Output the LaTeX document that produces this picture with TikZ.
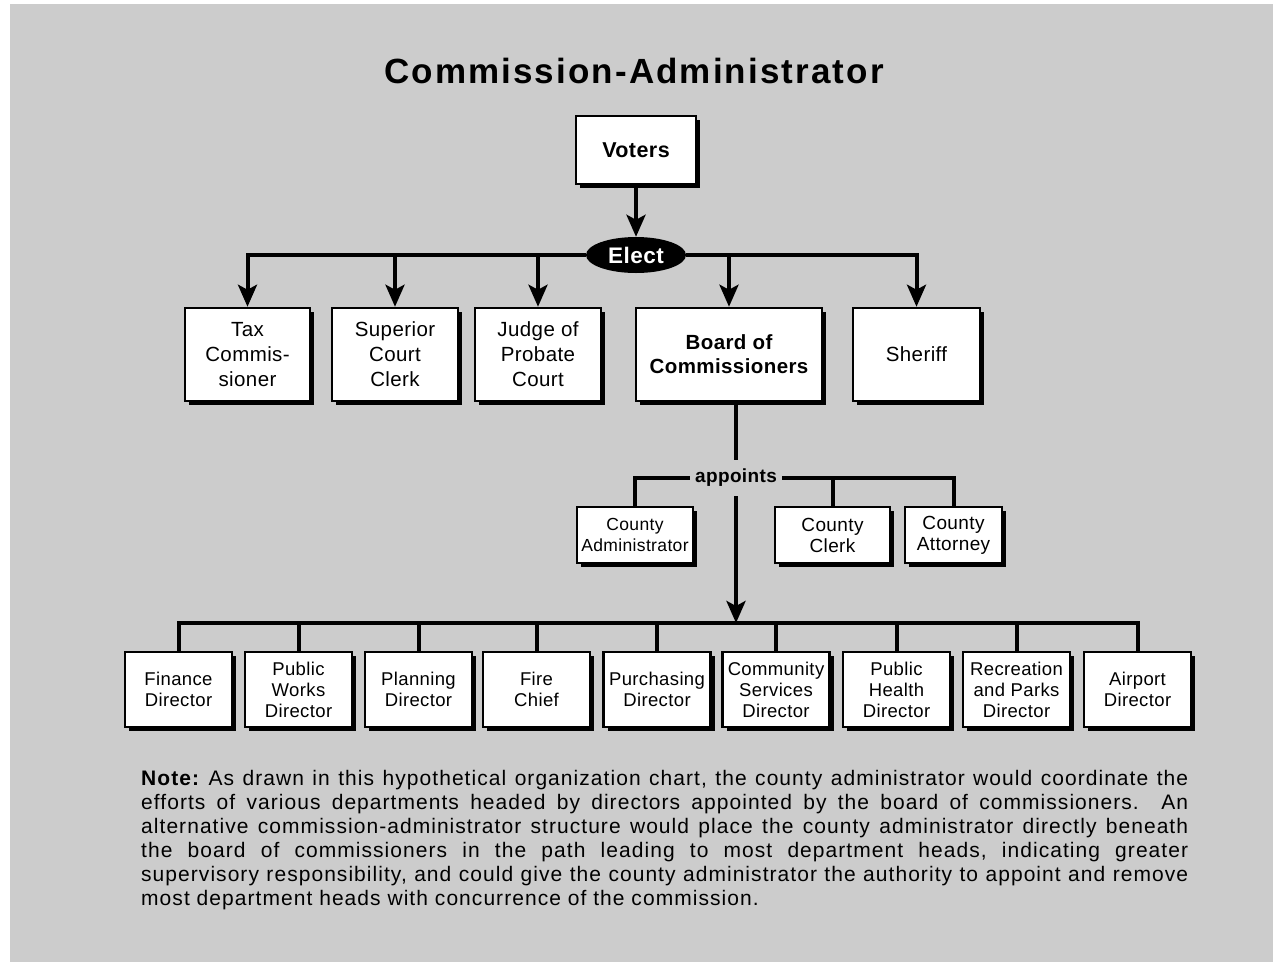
\documentclass[tikz,border=0pt]{standalone}
\usepackage{fontspec}
\setmainfont{Liberation Sans}[LetterSpace=2]
\usetikzlibrary{shapes.geometric,shadows,arrows.meta}
\definecolor{panel}{HTML}{CCCCCC}
\begin{document}
\begin{tikzpicture}[x=1pt,y=-1pt,
  office/.style={draw,line width=2.5pt,fill=white,inner sep=0pt,align=center,
    drop shadow={shadow xshift=4pt,shadow yshift=-4pt,fill=black,opacity=1}},
  elected/.style={office,minimum height=93pt,font=\fontsize{20.5}{25}\selectfont},
  appointed/.style={office,minimum height=56pt,font=\fontsize{19}{21}\selectfont},
  dept/.style={office,minimum width=107pt,minimum height=75pt,font=\fontsize{18.5}{21}\selectfont},
  link/.style={line width=4pt},
  flow/.style={link,-{Stealth[length=22pt,width=19pt,inset=5pt]}}]
\useasboundingbox (0,0) rectangle (1273,962);
\fill[white] (0,0) rectangle (1273,962);
\fill[panel] (10,4) rectangle (1273,962);

\node[anchor=base,font=\fontsize{35}{40}\selectfont\bfseries\addfontfeatures{LetterSpace=6}] (title) at (634,83) {Commission-Administrator};

% elected offices
\node[office,minimum width=120pt,minimum height=68pt,font=\fontsize{21.5}{25}\selectfont\bfseries] (voters) at (636,150) {Voters};
\node[ellipse,fill=black,text=white,inner sep=0pt,minimum width=100pt,minimum height=36pt,font=\fontsize{22.5}{25}\selectfont\bfseries] (elect) at (636,255) {Elect};

\node[elected,minimum width=125pt] (tax) at (247.5,354.5) {Tax\\Commis-\\sioner};
\node[elected,minimum width=126pt] (court) at (395,354.5) {Superior\\Court\\Clerk};
\node[elected,minimum width=126pt] (probate) at (538,354.5) {Judge of\\Probate\\Court};
\node[elected,minimum width=186pt,font=\fontsize{20.5}{24}\selectfont\bfseries] (board) at (729,354.5) {Board of\\Commissioners};
\node[elected,minimum width=127pt] (sheriff) at (916.5,354.5) {Sheriff};

\draw[flow] (voters) -- (elect);
\draw[flow] (elect.west) -| (tax.north);
\draw[flow] (elect.west) -| (court.north);
\draw[flow] (elect.west) -| (probate.north);
\draw[flow] (elect.east) -| (board.north);
\draw[flow] (elect.east) -| (sheriff.north);

% appointed by the board
\node[fill=panel,inner xsep=5pt,inner ysep=0pt,minimum height=36pt,font=\fontsize{19}{21}\selectfont\bfseries] (appts) at (736,478) {appoints};
\node[appointed,minimum width=116pt,font=\fontsize{17.5}{21}\selectfont] (cadmin) at (635,535) {County\\Administrator};
\node[appointed,minimum width=115pt] (cclerk) at (832.5,535) {County\\Clerk};
\node[appointed,minimum width=97pt] (catty) at (953.5,535) {County\\Attorney};

\draw[link] (board.south -| appts) -- (appts);
\draw[link] (appts.west) -| (cadmin.north);
\draw[link] (appts.east) -| (catty.north);
\draw[link] (cclerk.north) -- (cclerk.north |- appts);

% department heads
\coordinate (bus) at (736,623);
\node[dept] (finance) at (178.5,689.5) {Finance\\Director};
\node[dept] (works) at (298.5,689.5) {Public\\Works\\Director};
\node[dept] (planning) at (418.5,689.5) {Planning\\Director};
\node[dept] (fire) at (536.5,689.5) {Fire\\Chief};
\node[dept] (purchasing) at (657,689.5) {Purchasing\\Director};
\node[dept] (community) at (776,689.5) {Community\\Services\\Director};
\node[dept] (health) at (896.5,689.5) {Public\\Health\\Director};
\node[dept] (parks) at (1016.5,689.5) {Recreation\\and Parks\\Director};
\node[dept] (airport) at (1137.5,689.5) {Airport\\Director};

\draw[flow] (appts) -- (bus);
\draw[link] (finance.north) |- (bus) -| (airport.north);
\foreach \n in {works,planning,fire,purchasing,community,health,parks}
  \draw[link] (\n.north) -- (\n.north |- bus);

\node[anchor=north west,text width=1047pt,align=justify,inner sep=0pt,font=\fontsize{21}{24}\selectfont\addfontfeatures{LetterSpace=5}\frenchspacing] (note) at (141,770)
  {\textbf{Note:} As drawn in this hypothetical organization chart, the county administrator would coordinate the\linebreak
  efforts of various departments headed by directors appointed by the board of commissioners.\ \ An\linebreak
  alternative commission-administrator structure would place the county administrator directly beneath\linebreak
  the board of commissioners in the path leading to most department heads, indicating greater\linebreak
  supervisory responsibility, and could give the county administrator the authority to appoint and remove\linebreak
  most department heads with concurrence of the commission.};
\end{tikzpicture}
\end{document}
